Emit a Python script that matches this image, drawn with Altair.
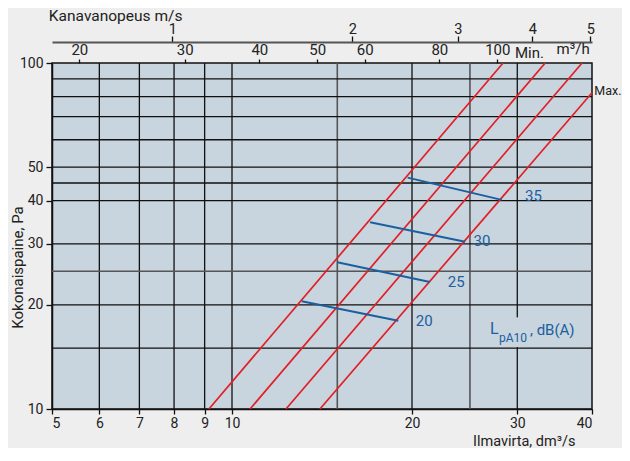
import altair as alt
import pandas as pd

# ---- data ----
x_grid = [6, 7, 8, 9, 10, 15, 20, 25, 30]
x_grid_gray = [15, 25]
y_grid = [15, 20, 25, 30, 40, 45, 50, 60, 70, 80, 90]
y_grid_gray = [25]

x_ticks = [5, 6, 7, 8, 9, 10, 20, 30, 40]
y_ticks = [10, 20, 30, 40, 50, 100]
m3h_ticks = [20, 30, 40, 50, 60, 80, 100]
ms_ticks = [1, 2, 3, 4, 5]
ms_factor = 7.95  # dm3/s per m/s

# red characteristic lines (start/end in dm3/s, Pa)
red_q0 = [9.15, 10.72, 12.31, 14.03]
red_p0 = [10, 10, 10, 10]
red_q1 = [28.4, 33.4, 38.5, 40.0]
red_p1 = [100, 100, 100, 82]

# blue sound-level lines
db_levels = ["20", "25", "30", "35"]
blue_q0 = [13.08, 15.0, 17.02, 19.67]
blue_p0 = [20.47, 26.57, 34.63, 46.64]
blue_q1 = [18.97, 21.43, 24.54, 28.25]
blue_p1 = [17.98, 23.28, 30.45, 40.21]
lab_q = [20.3, 22.95, 25.35, 30.9]
lab_p = [18.02, 23.32, 30.59, 41.2]

# annotation texts (position in data coords)
ann_text = ["Kanavanopeus m/s", "Min.", "m³/h", "Max."]
ann_q = [4.94, 29.73, 34.9, 40.35]
ann_p = [137.0, 106.8, 109.5, 83.1]
ann_s = [15.5, 15, 15, 12.5]

RED = "#e31e24"
BLUE = "#1b5f9e"
FONT = "Roboto"

xs = alt.Scale(type="log", domain=[5, 40], nice=False, zero=False)
ys = alt.Scale(type="log", domain=[10, 100], nice=False, zero=False)

# vertical grid
gv = pd.DataFrame({"q": x_grid,
                   "c": ["#555555" if v in x_grid_gray else "#111111" for v in x_grid],
                   "w": [1.6 if v in x_grid_gray else 1.3 for v in x_grid]})
grid_v = alt.Chart(gv).mark_rule().encode(
    x=alt.X("q:Q", scale=xs, axis=alt.Axis(
        values=x_ticks, format="d", title="Ilmavirta, dm³/s",
        titleAlign="right", titleAnchor="end", titleX=523, titleY=36,
        titleBaseline="alphabetic", titleFontSize=14.5, titleFontWeight="normal",
        labelPadding=2, tickSize=5, grid=False)),
    color=alt.Color("c:N", scale=None),
    strokeWidth=alt.StrokeWidth("w:Q", scale=None),
)

gh = pd.DataFrame({"p": y_grid,
                   "c": ["#555555" if v in y_grid_gray else "#111111" for v in y_grid],
                   "w": [1.6 if v in y_grid_gray else 1.3 for v in y_grid]})
grid_h = alt.Chart(gh).mark_rule().encode(
    y=alt.Y("p:Q", scale=ys, axis=alt.Axis(
        values=y_ticks, format="d", title="Kokonaispaine, Pa",
        titleX=-35, titleY=204, titleAlign="center", titleBaseline="middle",
        titleAngle=270, titleFontSize=15, titleFontWeight="normal",
        labelPadding=3, tickSize=6, grid=False)),
    color=alt.Color("c:N", scale=None),
    strokeWidth=alt.StrokeWidth("w:Q", scale=None),
)

m3h_q = [v / 3.6 for v in m3h_ticks]
top_m3h = alt.Chart(pd.DataFrame({"q": m3h_q})).mark_rule(opacity=0).encode(
    x=alt.X("q:Q", scale=xs, axis=alt.Axis(
        orient="top", values=m3h_q, labelExpr="'' + round(datum.value*3.6)",
        domain=False, tickSize=4, labelPadding=2, title=None, grid=False,
        labelFontSize=15)),
)

ms_q = [v * ms_factor for v in ms_ticks]
top_ms = alt.Chart(pd.DataFrame({"q": ms_q})).mark_rule(opacity=0).encode(
    x=alt.X("q:Q", scale=xs, axis=alt.Axis(
        orient="top", values=ms_q, labelExpr="'' + round(datum.value/7.95)",
        offset=21, domain=True, domainWidth=1.8, domainColor="#555555",
        tickSize=6, labelPadding=0, title=None, grid=False,
        labelFontSize=14.5)),
)

red_df = pd.DataFrame({"q0": red_q0, "p0": red_p0, "q1": red_q1, "p1": red_p1})
red = alt.Chart(red_df).mark_rule(color=RED, strokeWidth=1.7).encode(
    x=alt.X("q0:Q", scale=xs, axis=None), x2="q1:Q",
    y=alt.Y("p0:Q", scale=ys, axis=None), y2="p1:Q",
)

blue_df = pd.DataFrame({"db": db_levels, "q0": blue_q0, "p0": blue_p0,
                        "q1": blue_q1, "p1": blue_p1, "lq": lab_q, "lp": lab_p})
blue = alt.Chart(blue_df).mark_rule(color=BLUE, strokeWidth=2).encode(
    x=alt.X("q0:Q", scale=xs, axis=None), x2="q1:Q",
    y=alt.Y("p0:Q", scale=ys, axis=None), y2="p1:Q",
)
blue_lab = alt.Chart(blue_df).mark_text(
    color=BLUE, fontSize=15, align="left", baseline="middle", font=FONT
).encode(
    x=alt.X("lq:Q", scale=xs, axis=None),
    y=alt.Y("lp:Q", scale=ys, axis=None),
    text="db:N",
)

# gap behind LpA10 label on the 30 gridline
gap_df = pd.DataFrame({"q0": [29.5], "q1": [30.5], "p0": [15.1], "p1": [18.4]})
gap = alt.Chart(gap_df).mark_rect(color="#c8d4de").encode(
    x=alt.X("q0:Q", scale=xs, axis=None), x2="q1:Q",
    y=alt.Y("p0:Q", scale=ys, axis=None), y2="p1:Q",
)

lpa_df = pd.DataFrame({"t": ["L", "pA10", ", dB(A)"],
                       "q": [27.0, 27.96, 31.5],
                       "p": [17.0, 16.05, 16.9],
                       "s": [16, 12, 15]})
lpa = alt.Chart(lpa_df).mark_text(
    color=BLUE, align="left", baseline="middle", font=FONT
).encode(
    x=alt.X("q:Q", scale=xs, axis=None),
    y=alt.Y("p:Q", scale=ys, axis=None),
    text="t:N",
    size=alt.Size("s:Q", scale=None, legend=None),
)

ann_df = pd.DataFrame({"t": ann_text, "q": ann_q, "p": ann_p, "s": ann_s})
ann = alt.Chart(ann_df).mark_text(
    color="#222222", align="left", baseline="middle", font=FONT
).encode(
    x=alt.X("q:Q", scale=xs, axis=None),
    y=alt.Y("p:Q", scale=ys, axis=None),
    text="t:N",
    size=alt.Size("s:Q", scale=None, legend=None),
)

chart = alt.layer(
    grid_v, grid_h, top_m3h, top_ms, gap, red, blue, blue_lab, lpa, ann
).resolve_axis(x="independent", y="independent").properties(
    width=540, height=346,
    autosize=alt.AutoSizeParams(type="none"),
    padding={"left": 44, "top": 55, "right": 30, "bottom": 39},
    background="#eeeeee",
).configure_view(
    fill="#c8d4de", stroke="#111111", strokeWidth=1.5
).configure_axis(
    labelFont=FONT, titleFont=FONT, labelFontSize=14, labelColor="#222222",
    titleColor="#222222", tickColor="#111111", tickWidth=1.3,
    domainColor="#111111", domainWidth=1.5,
)

chart.save("out.html", embed_options={"renderer": "svg", "actions": False})
